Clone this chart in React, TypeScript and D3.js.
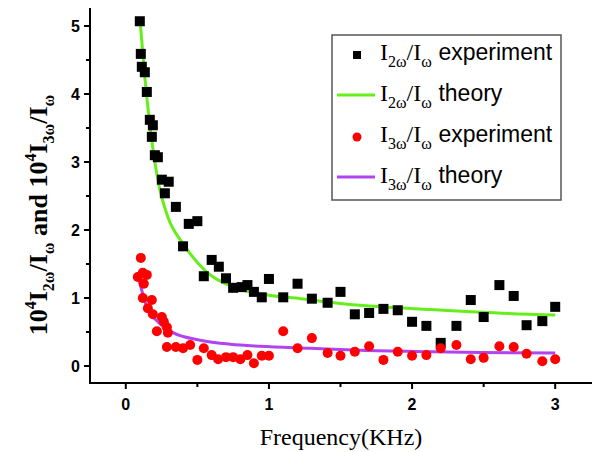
import { useMemo } from "react";
import { scaleLinear, line, curveMonotoneX, range } from "d3";

// I2w/Iw experiment (black squares)
const expX2 = [0.098, 0.105, 0.112, 0.133, 0.147, 0.168, 0.189, 0.182, 0.203, 0.224, 0.252, 0.3, 0.273, 0.35, 0.44, 0.5, 0.4, 0.6, 0.65, 0.545, 0.7, 0.75, 0.81, 0.85, 0.895, 0.95, 1.0, 1.1, 1.2, 1.3, 1.41, 1.5, 1.6, 1.7, 1.8, 1.9, 2.0, 2.1, 2.2, 2.31, 2.41, 2.5, 2.61, 2.71, 2.8, 2.91, 3.0];
const expY2 = [5.07, 4.59, 4.4, 4.32, 4.03, 3.62, 3.54, 3.37, 3.1, 3.07, 2.74, 2.71, 2.54, 2.34, 2.09, 2.13, 1.76, 1.56, 1.46, 1.32, 1.29, 1.15, 1.16, 1.19, 1.09, 1.01, 1.28, 1.01, 1.21, 0.99, 0.93, 1.09, 0.76, 0.78, 0.84, 0.82, 0.65, 0.59, 0.34, 0.59, 0.97, 0.72, 1.19, 1.03, 0.6, 0.66, 0.87];

// I3w/Iw experiment (red circles)
const expX3 = [0.105, 0.119, 0.147, 0.084, 0.126, 0.119, 0.182, 0.154, 0.189, 0.252, 0.266, 0.287, 0.217, 0.294, 0.287, 0.35, 0.4, 0.45, 0.5, 0.545, 0.6, 0.645, 0.7, 0.75, 0.8, 0.85, 0.895, 0.95, 1.0, 1.1, 1.2, 1.3, 1.41, 1.5, 1.6, 1.7, 1.8, 1.9, 2.0, 2.1, 2.2, 2.31, 2.41, 2.5, 2.61, 2.71, 2.8, 2.91, 3.0];
const expY3 = [1.59, 1.37, 1.34, 1.31, 1.21, 1.0, 0.97, 0.85, 0.76, 0.72, 0.65, 0.57, 0.51, 0.49, 0.28, 0.28, 0.26, 0.31, 0.09, 0.26, 0.16, 0.1, 0.13, 0.13, 0.1, 0.16, 0.04, 0.15, 0.15, 0.51, 0.26, 0.41, 0.19, 0.15, 0.21, 0.29, 0.09, 0.21, 0.15, 0.16, 0.26, 0.31, 0.1, 0.12, 0.29, 0.28, 0.18, 0.07, 0.1];

// theory curves
const thX2 = [0.1, 0.133, 0.168, 0.224, 0.294, 0.4, 0.566, 0.75, 1.0, 1.22, 1.5, 1.78, 2.13, 2.48, 3.0];
const thY2 = [5.07, 4.25, 3.55, 2.74, 2.19, 1.8, 1.38, 1.16, 1.04, 0.99, 0.92, 0.87, 0.83, 0.79, 0.75];
const thX3 = [0.093, 0.147, 0.224, 0.33, 0.52, 0.73, 0.94, 1.29, 1.64, 2.13, 2.48, 3.0];
const thY3 = [1.26, 0.87, 0.65, 0.49, 0.38, 0.32, 0.29, 0.26, 0.23, 0.21, 0.2, 0.19];

const xTicks = [0, 1, 2, 3];
const yTicks = [0, 1, 2, 3, 4, 5];

const W = 592;
const H = 452;
const SERIF = "'Liberation Serif', 'Times New Roman', serif";
const SANS = "'Liberation Sans', Arial, sans-serif";
const GREEN = "#66ee1a";
const PURPLE = "#b044f0";

function Ratio({ n, size, sub }: { n: string; size: number; sub: number }) {
  // I_{nω}/I_ω
  return (
    <>
      <tspan fontFamily={SERIF} fontSize={size}>I</tspan>
      <tspan fontFamily={SERIF} fontSize={sub} dy={size * 0.28}>{n}ω</tspan>
      <tspan fontFamily={SERIF} fontSize={size} dy={-size * 0.28}>/I</tspan>
      <tspan fontFamily={SERIF} fontSize={sub} dy={size * 0.28}>ω</tspan>
      <tspan fontSize={size} dy={-size * 0.28}> </tspan>
    </>
  );
}

export default function App() {
  const x = useMemo(() => scaleLinear().domain([-0.25, 3.25]).range([90, 591]), []);
  const y = useMemo(() => scaleLinear().domain([-0.25, 5.25]).range([383, 9]), []);

  const curve = line<number>()
    .x((d) => x(d))
    .curve(curveMonotoneX);

  const path2 = curve.y((_, i) => y(thY2[i]))(thX2) as string;
  const path3 = curve.y((_, i) => y(thY3[i]))(thX3) as string;

  const xMinor = range(-0.5, 3.3, 0.5).filter((v) => v > -0.25 && !xTicks.includes(v));
  const yMinor = range(0.5, 5.3, 0.5).filter((v) => !yTicks.includes(v));

  const lx = 332;
  const rows = [60, 101, 142, 183];

  return (
    <svg width={W} height={H} style={{ position: "absolute", left: 0, top: 0, background: "#fff" }}>
      {/* theory curves */}
      <path d={path2} fill="none" stroke={GREEN} strokeWidth={3} />
      <path d={path3} fill="none" stroke={PURPLE} strokeWidth={3} />

      {/* experiments */}
      {expX2.map((v, i) => (
        <rect key={"s" + i} x={x(v) - 5} y={y(expY2[i]) - 5} width={10} height={10} fill="#000" />
      ))}
      {expX3.map((v, i) => (
        <circle key={"c" + i} cx={x(v)} cy={y(expY3[i])} r={5} fill="#ff0000" />
      ))}

      {/* axes */}
      <line x1={90} x2={90} y1={8} y2={384} stroke="#000" strokeWidth={2} />
      <line x1={89} x2={592} y1={383} y2={383} stroke="#000" strokeWidth={2} />
      {xTicks.map((t) => (
        <g key={"xt" + t}>
          <line x1={x(t)} x2={x(t)} y1={383} y2={389} stroke="#000" strokeWidth={2} />
          <text x={x(t)} y={410} textAnchor="middle" fontFamily={SANS} fontWeight="bold" fontSize={16}>{t}</text>
        </g>
      ))}
      {xMinor.map((t) => (
        <line key={"xm" + t} x1={x(t)} x2={x(t)} y1={383} y2={387} stroke="#000" strokeWidth={2} />
      ))}
      {yTicks.map((t) => (
        <g key={"yt" + t}>
          <line x1={84} x2={90} y1={y(t)} y2={y(t)} stroke="#000" strokeWidth={2} />
          <text x={80} y={y(t) + 6} textAnchor="end" fontFamily={SANS} fontWeight="bold" fontSize={16}>{t}</text>
        </g>
      ))}
      {yMinor.map((t) => (
        <line key={"ym" + t} x1={86} x2={90} y1={y(t)} y2={y(t)} stroke="#000" strokeWidth={2} />
      ))}

      {/* axis titles */}
      <text x={341} y={445} textAnchor="middle" fontFamily={SERIF} fontSize={24}>Frequency(KHz)</text>
      <text transform="translate(47,215) rotate(-90)" textAnchor="middle" fontFamily={SERIF} fontWeight="bold" fontSize={26}>
        <tspan>10</tspan>
        <tspan fontSize={16} dy={-11}>4</tspan>
        <tspan fontSize={26} dy={11}>I</tspan>
        <tspan fontSize={16} dy={7}>2ω</tspan>
        <tspan fontSize={26} dy={-7}>/I</tspan>
        <tspan fontSize={16} dy={7}>ω</tspan>
        <tspan fontSize={26} dy={-7}> and 10</tspan>
        <tspan fontSize={16} dy={-11}>4</tspan>
        <tspan fontSize={26} dy={11}>I</tspan>
        <tspan fontSize={16} dy={7}>3ω</tspan>
        <tspan fontSize={26} dy={-7}>/I</tspan>
        <tspan fontSize={16} dy={7}>ω</tspan>
      </text>

      {/* legend */}
      <rect x={lx} y={35} width={229} height={165} fill="#fff" stroke="#555" strokeWidth={1.5} />
      <rect x={353} y={rows[0] - 9} width={8} height={8} fill="#000" />
      <line x1={337} x2={375} y1={rows[1] - 6} y2={rows[1] - 6} stroke={GREEN} strokeWidth={3} />
      <circle cx={357} cy={rows[2] - 5} r={4.5} fill="#ff0000" />
      <line x1={337} x2={375} y1={rows[3] - 6} y2={rows[3] - 6} stroke={PURPLE} strokeWidth={3} />
      {["experiment", "theory", "experiment", "theory"].map((label, i) => (
        <text key={"lg" + i} x={380} y={rows[i]} fontFamily={SANS} fontSize={23}>
          <Ratio n={i < 2 ? "2" : "3"} size={24} sub={16} />
          <tspan fontFamily={SANS}>{label}</tspan>
        </text>
      ))}
    </svg>
  );
}
